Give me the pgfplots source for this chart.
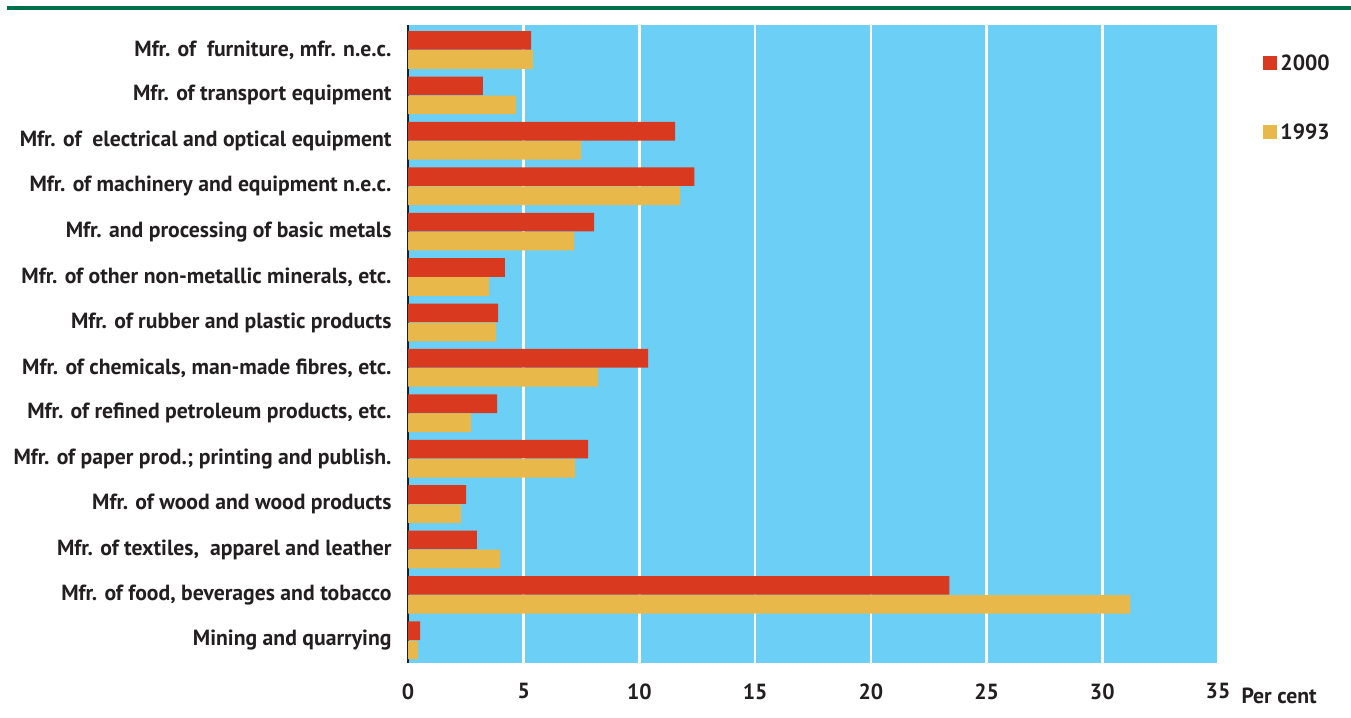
\documentclass[border=0pt]{standalone}
\usepackage{fontspec}
\setmainfont{PT Sans}[FakeStretch=0.99]
\usepackage{pgfplots}
\pgfplotsset{compat=1.18}

\definecolor{plotblue}{HTML}{6BCFF6}
\definecolor{bar2000}{HTML}{D93A1F}
\definecolor{bar1993}{HTML}{E8B94A}
\definecolor{topgreen}{HTML}{00704A}
\definecolor{txt}{HTML}{231F20}

\newcommand{\lblfont}{\fontsize{22}{26}\selectfont\bfseries}

\begin{document}
\begin{tikzpicture}
\useasboundingbox (0,0) rectangle (1351bp,718bp);
\draw[topgreen, line width=4bp] (7bp,710bp) -- (1351bp,710bp);
\begin{axis}[
    at={(408bp,55bp)}, anchor=south west,
    scale only axis,
    width=810bp, height=638bp,
    xbar,
    xmin=0, xmax=35,
    ymin=-0.5, ymax=13.55,
    xtick={0,5,...,35},
    ytick={0,...,13},
    yticklabels={
        {Mining and quarrying},
        {Mfr. of food, beverages and tobacco},
        {Mfr. of textiles, \ apparel and leather},
        {Mfr. of wood and wood products},
        {Mfr. of paper prod.; printing and publish.},
        {Mfr. of refined petroleum products, etc.},
        {Mfr. of chemicals, man-made fibres, etc.},
        {Mfr. of rubber and plastic products},
        {Mfr. of other non-metallic minerals, etc.},
        {Mfr. and processing of basic metals},
        {Mfr. of machinery and equipment n.e.c.},
        {Mfr. of \ electrical and optical equipment},
        {Mfr. of transport equipment},
        {Mfr. of \ furniture, mfr. n.e.c.}},
    major tick length=0pt,
    /pgf/number format/assume math mode=true,
    tick label style={font=\lblfont, text=txt},
    yticklabel style={xshift=-13bp},
    xticklabel style={yshift=-17bp},
    axis background/.style={fill=plotblue},
    xmajorgrids,
    grid style={white, line width=2.5bp},
    axis y line*=left,
    axis x line*=bottom,
    x axis line style={draw=none},
    y axis line style={draw=txt, line width=2.2bp, -},
    bar width=0.41,
    legend style={at={(rel axis cs:1.051,0.96)}, anchor=north west,
        draw=none, fill=none, row sep=48bp,
        font=\lblfont, text=txt},
    legend image code/.code={\fill[#1] (0bp,-7bp) rectangle (14bp,7bp);},
]
\addplot[fill=bar2000, draw=none, bar shift=0.21] coordinates {
    (0.52,0) (23.39,1) (2.98,2) (2.51,3) (7.78,4) (3.85,5) (10.38,6)
    (3.89,7) (4.19,8) (8.04,9) (12.37,10) (11.54,11) (3.24,12) (5.32,13)};
\addplot[fill=bar1993, draw=none, bar shift=-0.21] coordinates {
    (0.43,0) (31.2,1) (3.98,2) (2.29,3) (7.22,4) (2.72,5) (8.21,6)
    (3.80,7) (3.50,8) (7.18,9) (11.76,10) (7.48,11) (4.67,12) (5.40,13)};
\legend{\hspace{2bp}2000,\hspace{2bp}1993}
\end{axis}
\node[anchor=base west, text=txt, font=\lblfont]
    at (1238bp,15bp) {Per cent};
\end{tikzpicture}
\end{document}
